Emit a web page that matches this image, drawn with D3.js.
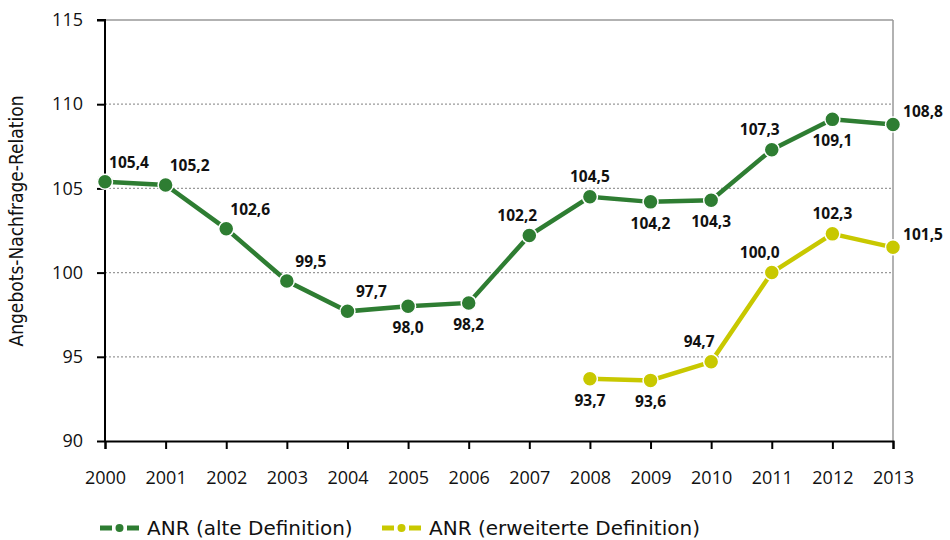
<html>
<head>
<script src="https://d3js.org/d3.v7.min.js"></script>
<style>
  body { margin: 0; background: #fff; }
  svg text { font-family: "Open Sans", sans-serif; }
</style>
</head>
<body>
<div id="chart"></div>
<script>
const years = [2000, 2001, 2002, 2003, 2004, 2005, 2006, 2007, 2008, 2009, 2010, 2011, 2012, 2013];
const anrAlt = [105.4, 105.2, 102.6, 99.5, 97.7, 98.0, 98.2, 102.2, 104.5, 104.2, 104.3, 107.3, 109.1, 108.8];
const anrErw = [null, null, null, null, null, null, null, null, 93.7, 93.6, 94.7, 100.0, 102.3, 101.5];
const yTicks = [90, 95, 100, 105, 110, 115];
// where each value label sits relative to its point
const altPlace = ["ar", "ar", "ar", "ar", "ar", "b", "b", "al", "a", "b", "b", "al", "b", "r"];
const erwPlace = [null, null, null, null, null, null, null, null, "b", "b", "al", "al", "a", "r"];

const W = 950, H = 540;
const margin = {top: 20, right: 57, bottom: 99, left: 105};
const width = W - margin.left - margin.right;
const height = H - margin.top - margin.bottom;

const green = "#2e7d32", yellow = "#c8c800";
const narrow = "'DejaVu Sans Condensed', sans-serif";

const svg = d3.select("#chart").append("svg")
  .attr("width", W).attr("height", H);
const g = svg.append("g")
  .attr("transform", "translate(" + margin.left + "," + margin.top + ")");

const x = d3.scaleLinear().domain([2000, 2013]).range([0, width]);
const y = d3.scaleLinear().domain([90, 115]).range([height, 0]);

// grid lines
g.selectAll(".grid").data(yTicks.filter(d => d > 90 && d < 115)).enter()
  .append("line")
  .attr("x1", 0).attr("x2", width)
  .attr("y1", d => y(d)).attr("y2", d => y(d))
  .attr("stroke", "#999").attr("stroke-width", 1.2)
  .attr("stroke-dasharray", "2,2");
g.append("line").attr("x1", 0).attr("x2", width).attr("y1", y(115)).attr("y2", y(115))
  .attr("stroke", "#999").attr("stroke-width", 1.5);
g.append("line").attr("x1", width).attr("x2", width).attr("y1", y(115)).attr("y2", y(90))
  .attr("stroke", "#999").attr("stroke-width", 1.5);

// axes
const yAxis = g.append("g")
  .call(d3.axisLeft(y).tickValues(yTicks).tickSize(8).tickPadding(14));
const xAxis = g.append("g")
  .attr("transform", "translate(0," + height + ")")
  .call(d3.axisBottom(x).tickValues(years).tickFormat(d3.format("d")).tickSize(8).tickPadding(22));
[yAxis, xAxis].forEach(a => {
  a.select(".domain").attr("stroke", "#000").attr("stroke-width", 2);
  a.selectAll(".tick line").attr("stroke", "#000").attr("stroke-width", 2);
  a.selectAll(".tick text").attr("fill", "#111").style("font-size", "18px")
    .style("font-family", "'Open Sans', sans-serif");
});
yAxis.select(".domain").attr("d", "M-8," + y(115) + "H0V" + height);

svg.append("text")
  .attr("transform", "translate(23,221) rotate(-90)")
  .attr("text-anchor", "middle")
  .style("font-size", "19px").style("font-family", narrow).attr("fill", "#111")
  .text("Angebots-Nachfrage-Relation");

const fmt = v => v.toFixed(1).replace(".", ",");
const offs = {
  ar: [24, -14], a: [0, -15], al: [-12, -15], b: [0, 27], r: [30, -7]
};

function drawSeries(vals, place, color) {
  const pts = years.map((yr, i) => ({yr: yr, v: vals[i], p: place[i]})).filter(d => d.v !== null);
  g.append("path").datum(pts)
    .attr("fill", "none").attr("stroke", color).attr("stroke-width", 4.5)
    .attr("d", d3.line().x(d => x(d.yr)).y(d => y(d.v)));
  g.selectAll(null).data(pts).enter().append("circle")
    .attr("cx", d => x(d.yr)).attr("cy", d => y(d.v)).attr("r", 7.5)
    .attr("fill", color).attr("stroke", "#fff").attr("stroke-width", 1.5);
  g.selectAll(null).data(pts).enter().append("text")
    .attr("x", d => x(d.yr) + offs[d.p][0]).attr("y", d => y(d.v) + offs[d.p][1])
    .attr("text-anchor", "middle")
    .style("font-size", "15.5px").style("font-weight", "bold").attr("fill", "#111")
    .text(d => fmt(d.v));
}
drawSeries(anrErw, erwPlace, yellow);
drawSeries(anrAlt, altPlace, green);

// legend
const legend = [
  {label: "ANR (alte Definition)", color: green, x: 100},
  {label: "ANR (erweiterte Definition)", color: yellow, x: 382}
];
const lg = svg.selectAll(".lg").data(legend).enter().append("g")
  .attr("transform", d => "translate(" + d.x + ",528)");
lg.append("line").attr("x1", 0).attr("x2", 12).attr("stroke", d => d.color).attr("stroke-width", 5);
lg.append("line").attr("x1", 27).attr("x2", 39).attr("stroke", d => d.color).attr("stroke-width", 5);
lg.append("circle").attr("cx", 19.5).attr("r", 4).attr("fill", d => d.color);
lg.append("text").attr("x", 47).attr("y", 7)
  .style("font-size", "20px").style("font-family", "'DejaVu Sans', sans-serif")
  .attr("fill", "#111").text(d => d.label);
</script>
</body>
</html>
